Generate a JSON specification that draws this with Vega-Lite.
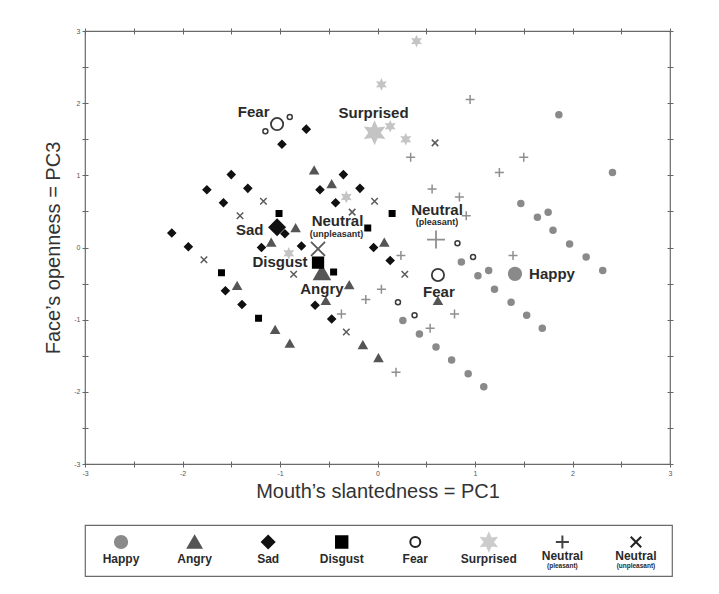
{
  "$schema": "https://vega.github.io/schema/vega-lite/v6.json",
  "padding": {"left": 43, "top": 26, "right": 5, "bottom": 5},
  "background": "white",
  "spacing": 22,
  "config": {"font": "Liberation Sans", "view": {"stroke": null}},
  "resolve": {"scale": {"x": "independent", "y": "independent", "size": "independent", "shape": "independent", "fill": "independent", "stroke": "independent"}},
  "datasets": {
    "pts": [
      {"emotion": "Happy", "pc1": 1.86, "pc3": 1.84, "centroid": 0},
      {"emotion": "Happy", "pc1": 2.41, "pc3": 1.04, "centroid": 0},
      {"emotion": "Happy", "pc1": 1.47, "pc3": 0.61, "centroid": 0},
      {"emotion": "Happy", "pc1": 1.64, "pc3": 0.42, "centroid": 0},
      {"emotion": "Happy", "pc1": 1.75, "pc3": 0.49, "centroid": 0},
      {"emotion": "Happy", "pc1": 1.80, "pc3": 0.24, "centroid": 0},
      {"emotion": "Happy", "pc1": 1.97, "pc3": 0.05, "centroid": 0},
      {"emotion": "Happy", "pc1": 2.14, "pc3": -0.13, "centroid": 0},
      {"emotion": "Happy", "pc1": 2.31, "pc3": -0.32, "centroid": 0},
      {"emotion": "Happy", "pc1": 0.86, "pc3": -0.20, "centroid": 0},
      {"emotion": "Happy", "pc1": 1.03, "pc3": -0.39, "centroid": 0},
      {"emotion": "Happy", "pc1": 1.14, "pc3": -0.32, "centroid": 0},
      {"emotion": "Happy", "pc1": 1.20, "pc3": -0.58, "centroid": 0},
      {"emotion": "Happy", "pc1": 1.37, "pc3": -0.76, "centroid": 0},
      {"emotion": "Happy", "pc1": 1.53, "pc3": -0.94, "centroid": 0},
      {"emotion": "Happy", "pc1": 1.69, "pc3": -1.12, "centroid": 0},
      {"emotion": "Happy", "pc1": 0.26, "pc3": -1.01, "centroid": 0},
      {"emotion": "Happy", "pc1": 0.43, "pc3": -1.20, "centroid": 0},
      {"emotion": "Happy", "pc1": 0.60, "pc3": -1.38, "centroid": 0},
      {"emotion": "Happy", "pc1": 0.76, "pc3": -1.56, "centroid": 0},
      {"emotion": "Happy", "pc1": 0.93, "pc3": -1.75, "centroid": 0},
      {"emotion": "Happy", "pc1": 1.09, "pc3": -1.93, "centroid": 0},
      {"emotion": "Angry", "pc1": -0.65, "pc3": 1.07, "centroid": 0},
      {"emotion": "Angry", "pc1": -0.47, "pc3": 0.88, "centroid": 0},
      {"emotion": "Angry", "pc1": -0.84, "pc3": 0.27, "centroid": 0},
      {"emotion": "Angry", "pc1": -1.09, "pc3": 0.07, "centroid": 0},
      {"emotion": "Angry", "pc1": 0.07, "pc3": 0.07, "centroid": 0},
      {"emotion": "Angry", "pc1": -1.44, "pc3": -0.53, "centroid": 0},
      {"emotion": "Angry", "pc1": -0.29, "pc3": -0.52, "centroid": 0},
      {"emotion": "Angry", "pc1": -0.53, "pc3": -0.74, "centroid": 0},
      {"emotion": "Angry", "pc1": 0.62, "pc3": -0.74, "centroid": 0},
      {"emotion": "Angry", "pc1": -1.05, "pc3": -1.14, "centroid": 0},
      {"emotion": "Angry", "pc1": -0.90, "pc3": -1.33, "centroid": 0},
      {"emotion": "Angry", "pc1": -0.15, "pc3": -1.35, "centroid": 0},
      {"emotion": "Angry", "pc1": 0.01, "pc3": -1.53, "centroid": 0},
      {"emotion": "Sad", "pc1": -0.73, "pc3": 1.64, "centroid": 0},
      {"emotion": "Sad", "pc1": -0.98, "pc3": 1.43, "centroid": 0},
      {"emotion": "Sad", "pc1": -0.35, "pc3": 1.01, "centroid": 0},
      {"emotion": "Sad", "pc1": -0.59, "pc3": 0.80, "centroid": 0},
      {"emotion": "Sad", "pc1": -0.18, "pc3": 0.82, "centroid": 0},
      {"emotion": "Sad", "pc1": -0.43, "pc3": 0.62, "centroid": 0},
      {"emotion": "Sad", "pc1": -1.50, "pc3": 1.01, "centroid": 0},
      {"emotion": "Sad", "pc1": -1.75, "pc3": 0.80, "centroid": 0},
      {"emotion": "Sad", "pc1": -1.33, "pc3": 0.82, "centroid": 0},
      {"emotion": "Sad", "pc1": -1.58, "pc3": 0.62, "centroid": 0},
      {"emotion": "Sad", "pc1": -0.95, "pc3": 0.19, "centroid": 0},
      {"emotion": "Sad", "pc1": -2.11, "pc3": 0.20, "centroid": 0},
      {"emotion": "Sad", "pc1": -1.94, "pc3": 0.01, "centroid": 0},
      {"emotion": "Sad", "pc1": -1.19, "pc3": 0.00, "centroid": 0},
      {"emotion": "Sad", "pc1": -0.78, "pc3": 0.02, "centroid": 0},
      {"emotion": "Sad", "pc1": -0.04, "pc3": 0.00, "centroid": 0},
      {"emotion": "Sad", "pc1": 0.13, "pc3": -0.18, "centroid": 0},
      {"emotion": "Sad", "pc1": -1.56, "pc3": -0.60, "centroid": 0},
      {"emotion": "Sad", "pc1": -1.39, "pc3": -0.79, "centroid": 0},
      {"emotion": "Sad", "pc1": -0.64, "pc3": -0.80, "centroid": 0},
      {"emotion": "Sad", "pc1": -0.47, "pc3": -0.99, "centroid": 0},
      {"emotion": "Disgust", "pc1": -1.01, "pc3": 0.47, "centroid": 0},
      {"emotion": "Disgust", "pc1": 0.15, "pc3": 0.47, "centroid": 0},
      {"emotion": "Disgust", "pc1": -0.10, "pc3": 0.27, "centroid": 0},
      {"emotion": "Disgust", "pc1": -1.60, "pc3": -0.35, "centroid": 0},
      {"emotion": "Disgust", "pc1": -1.22, "pc3": -0.98, "centroid": 0},
      {"emotion": "Disgust", "pc1": -0.45, "pc3": -0.34, "centroid": 0},
      {"emotion": "Fear", "pc1": -1.15, "pc3": 1.61, "centroid": 0},
      {"emotion": "Fear", "pc1": -0.90, "pc3": 1.81, "centroid": 0},
      {"emotion": "Fear", "pc1": 0.82, "pc3": 0.06, "centroid": 0},
      {"emotion": "Fear", "pc1": 0.98, "pc3": -0.13, "centroid": 0},
      {"emotion": "Fear", "pc1": 0.21, "pc3": -0.76, "centroid": 0},
      {"emotion": "Fear", "pc1": 0.38, "pc3": -0.94, "centroid": 0},
      {"emotion": "Surprised", "pc1": 0.40, "pc3": 2.86, "centroid": 0},
      {"emotion": "Surprised", "pc1": 0.04, "pc3": 2.26, "centroid": 0},
      {"emotion": "Surprised", "pc1": 0.13, "pc3": 1.68, "centroid": 0},
      {"emotion": "Surprised", "pc1": 0.29, "pc3": 1.50, "centroid": 0},
      {"emotion": "Surprised", "pc1": -0.32, "pc3": 0.70, "centroid": 0},
      {"emotion": "Surprised", "pc1": -0.91, "pc3": -0.08, "centroid": 0},
      {"emotion": "Neutral (pleasant)", "pc1": 0.95, "pc3": 2.05, "centroid": 0},
      {"emotion": "Neutral (pleasant)", "pc1": 0.34, "pc3": 1.25, "centroid": 0},
      {"emotion": "Neutral (pleasant)", "pc1": 1.50, "pc3": 1.25, "centroid": 0},
      {"emotion": "Neutral (pleasant)", "pc1": 1.25, "pc3": 1.04, "centroid": 0},
      {"emotion": "Neutral (pleasant)", "pc1": 0.56, "pc3": 0.81, "centroid": 0},
      {"emotion": "Neutral (pleasant)", "pc1": 0.84, "pc3": 0.70, "centroid": 0},
      {"emotion": "Neutral (pleasant)", "pc1": 0.91, "pc3": 0.44, "centroid": 0},
      {"emotion": "Neutral (pleasant)", "pc1": 0.24, "pc3": -0.11, "centroid": 0},
      {"emotion": "Neutral (pleasant)", "pc1": 1.39, "pc3": -0.11, "centroid": 0},
      {"emotion": "Neutral (pleasant)", "pc1": 0.04, "pc3": -0.58, "centroid": 0},
      {"emotion": "Neutral (pleasant)", "pc1": -0.12, "pc3": -0.72, "centroid": 0},
      {"emotion": "Neutral (pleasant)", "pc1": -0.37, "pc3": -0.92, "centroid": 0},
      {"emotion": "Neutral (pleasant)", "pc1": 0.79, "pc3": -0.92, "centroid": 0},
      {"emotion": "Neutral (pleasant)", "pc1": 0.54, "pc3": -1.12, "centroid": 0},
      {"emotion": "Neutral (pleasant)", "pc1": 0.19, "pc3": -1.73, "centroid": 0},
      {"emotion": "Neutral (unpleasant)", "pc1": 0.59, "pc3": 1.45, "centroid": 0},
      {"emotion": "Neutral (unpleasant)", "pc1": -0.03, "pc3": 0.64, "centroid": 0},
      {"emotion": "Neutral (unpleasant)", "pc1": -1.17, "pc3": 0.64, "centroid": 0},
      {"emotion": "Neutral (unpleasant)", "pc1": -1.41, "pc3": 0.44, "centroid": 0},
      {"emotion": "Neutral (unpleasant)", "pc1": -1.78, "pc3": -0.17, "centroid": 0},
      {"emotion": "Neutral (unpleasant)", "pc1": -0.86, "pc3": -0.37, "centroid": 0},
      {"emotion": "Neutral (unpleasant)", "pc1": 0.28, "pc3": -0.37, "centroid": 0},
      {"emotion": "Neutral (unpleasant)", "pc1": -0.32, "pc3": -1.17, "centroid": 0},
      {"emotion": "Neutral (unpleasant)", "pc1": -0.26, "pc3": 0.49, "centroid": 0},
      {"emotion": "Happy", "pc1": 1.41, "pc3": -0.365, "centroid": 1},
      {"emotion": "Sad", "pc1": -1.03, "pc3": 0.28, "centroid": 1},
      {"emotion": "Fear", "pc1": -1.03, "pc3": 1.71, "centroid": 1},
      {"emotion": "Fear", "pc1": 0.62, "pc3": -0.38, "centroid": 1},
      {"emotion": "Surprised", "pc1": -0.03, "pc3": 1.59, "centroid": 1},
      {"emotion": "Neutral (pleasant)", "pc1": 0.60, "pc3": 0.11, "centroid": 1},
      {"emotion": "Angry", "pc1": -0.57, "pc3": -0.35, "centroid": 1},
      {"emotion": "Disgust", "pc1": -0.61, "pc3": -0.21, "centroid": 1},
      {"emotion": "Neutral (unpleasant)", "pc1": -0.61, "pc3": -0.02, "centroid": 1}
    ],
    "ann": [
      {"label": "Fear", "pc1": -1.27, "pc3": 1.88, "sub": 0},
      {"label": "Surprised", "pc1": -0.04, "pc3": 1.87, "sub": 0},
      {"label": "Sad", "pc1": -1.31, "pc3": 0.245, "sub": 0},
      {"label": "Neutral", "pc1": -0.41, "pc3": 0.365, "sub": 0},
      {"label": "(unpleasant)", "pc1": -0.42, "pc3": 0.185, "sub": 1},
      {"label": "Disgust", "pc1": -1.0, "pc3": -0.2, "sub": 0},
      {"label": "Angry", "pc1": -0.57, "pc3": -0.57, "sub": 0},
      {"label": "Neutral", "pc1": 0.61, "pc3": 0.525, "sub": 0},
      {"label": "(pleasant)", "pc1": 0.61, "pc3": 0.35, "sub": 1},
      {"label": "Fear", "pc1": 0.63, "pc3": -0.61, "sub": 0},
      {"label": "Happy", "pc1": 1.79, "pc3": -0.365, "sub": 0}
    ],
    "leg": [
      {"emotion": "Happy", "label": "Happy", "sub": ""},
      {"emotion": "Angry", "label": "Angry", "sub": ""},
      {"emotion": "Sad", "label": "Sad", "sub": ""},
      {"emotion": "Disgust", "label": "Disgust", "sub": ""},
      {"emotion": "Fear", "label": "Fear", "sub": ""},
      {"emotion": "Surprised", "label": "Surprised", "sub": ""},
      {"emotion": "Neutral (pleasant)", "label": "Neutral", "sub": "(pleasant)"},
      {"emotion": "Neutral (unpleasant)", "label": "Neutral", "sub": "(unpleasant)"}
    ]
  },
  "vconcat": [
    {
      "width": 585,
      "height": 433,
      "view": {"stroke": "#6a6a6a", "strokeWidth": 1.2},
      "resolve": {"scale": {"size": "independent"}, "axis": {"x": "independent", "y": "independent"}},
      "layer": [
        {
          "data": {"name": "pts"},
          "transform": [{"filter": "datum.centroid == 0"}],
          "mark": {"type": "point", "opacity": 1, "strokeWidth": 1.5},
          "encoding": {
            "x": {"field": "pc1", "type": "quantitative", "scale": {"domain": [-3, 3], "nice": false, "zero": false},
              "axis": {"orient": "bottom", "values": [-3, -2.5, -2, -1.5, -1, -0.5, 0, 0.5, 1, 1.5, 2, 2.5, 3], "labelExpr": "datum.value % 1 == 0 ? '' + datum.value : ''", "labelOverlap": false, "labelFlush": false, "offset": -3, "tickSize": 6, "tickColor": "#666", "domain": false, "grid": false, "labelFontSize": 7, "labelColor": "#555", "labelPadding": 2, "title": "Mouth’s slantedness = PC1", "titleFontSize": 20, "titleFontWeight": "normal", "titleColor": "#333", "titlePadding": 5}},
            "y": {"field": "pc3", "type": "quantitative", "scale": {"domain": [-3, 3], "nice": false, "zero": false},
              "axis": {"orient": "left", "values": [-3, -2.5, -2, -1.5, -1, -0.5, 0, 0.5, 1, 1.5, 2, 2.5, 3], "labelExpr": "datum.value % 1 == 0 ? '' + datum.value : ''", "labelOverlap": false, "labelFlush": false, "offset": -3, "tickSize": 6, "tickColor": "#666", "domain": false, "grid": false, "labelFontSize": 7, "labelColor": "#555", "labelPadding": 2, "title": "Face’s openness = PC3", "titleFontSize": 20, "titleFontWeight": "normal", "titleColor": "#333", "titlePadding": 10}},
            "shape": {"field": "emotion", "type": "nominal", "legend": null, "scale": {"domain": ["Happy", "Angry", "Sad", "Disgust", "Fear", "Surprised", "Neutral (pleasant)", "Neutral (unpleasant)"], "range": ["circle", "triangle-up", "diamond", "square", "circle", "M0,-1L0.25,-0.433L0.866,-0.5L0.5,0L0.866,0.5L0.25,0.433L0,1L-0.25,0.433L-0.866,0.5L-0.5,0L-0.866,-0.5L-0.25,-0.433Z", "M-1,0L1,0M0,-1L0,1", "M-1,-1L1,1M-1,1L1,-1"]}},
            "fill": {"field": "emotion", "type": "nominal", "legend": null, "scale": {"domain": ["Happy", "Angry", "Sad", "Disgust", "Fear", "Surprised", "Neutral (pleasant)", "Neutral (unpleasant)"], "range": ["#8a8a8a", "#555555", "#111111", "#000000", "transparent", "#c4c4c4", "transparent", "transparent"]}},
            "stroke": {"field": "emotion", "type": "nominal", "legend": null, "scale": {"domain": ["Happy", "Angry", "Sad", "Disgust", "Fear", "Surprised", "Neutral (pleasant)", "Neutral (unpleasant)"], "range": ["#8a8a8a", "#555555", "#111111", "#000000", "#3a3a3a", "#c4c4c4", "#8f8f8f", "#5a5a5a"]}},
            "size": {"field": "emotion", "type": "nominal", "legend": null, "scale": {"type": "ordinal", "domain": ["Happy", "Angry", "Sad", "Disgust", "Fear", "Surprised", "Neutral (pleasant)", "Neutral (unpleasant)"], "range": [36, 64, 56, 30, 25, 81, 81, 42]}}
          }
        },
        {
          "data": {"name": "pts"},
          "transform": [{"filter": "datum.centroid == 1"}],
          "mark": {"type": "point", "opacity": 1, "strokeWidth": 1.8},
          "encoding": {
            "x": {"field": "pc1", "type": "quantitative", "axis": null},
            "y": {"field": "pc3", "type": "quantitative", "axis": null},
            "shape": {"field": "emotion", "type": "nominal", "legend": null},
            "fill": {"field": "emotion", "type": "nominal", "legend": null},
            "stroke": {"field": "emotion", "type": "nominal", "legend": null},
            "size": {"field": "emotion", "type": "nominal", "legend": null, "scale": {"type": "ordinal", "domain": ["Happy", "Angry", "Sad", "Disgust", "Fear", "Surprised", "Neutral (pleasant)", "Neutral (unpleasant)"], "range": [156, 240, 240, 110, 150, 420, 324, 196]}}
          }
        },
        {
          "data": {"name": "ann"},
          "transform": [{"filter": "datum.sub == 0"}],
          "mark": {"type": "text", "fontWeight": "bold", "fontSize": 15, "fill": "#2a2a2a", "baseline": "middle", "align": "center"},
          "encoding": {
            "x": {"field": "pc1", "type": "quantitative",
              "axis": {"orient": "top", "values": [-3, -2.5, -2, -1.5, -1, -0.5, 0, 0.5, 1, 1.5, 2, 2.5, 3], "labels": false, "offset": -3, "tickSize": 6, "tickColor": "#666", "domain": false, "grid": false, "title": null}},
            "y": {"field": "pc3", "type": "quantitative",
              "axis": {"orient": "right", "values": [-3, -2.5, -2, -1.5, -1, -0.5, 0, 0.5, 1, 1.5, 2, 2.5, 3], "labels": false, "offset": -3, "tickSize": 6, "tickColor": "#666", "domain": false, "grid": false, "title": null}},
            "text": {"field": "label", "type": "nominal"}
          }
        },
        {
          "data": {"name": "ann"},
          "transform": [{"filter": "datum.sub == 1"}],
          "mark": {"type": "text", "fontWeight": "bold", "fontSize": 9, "fill": "#2a2a2a", "baseline": "middle", "align": "center"},
          "encoding": {
            "x": {"field": "pc1", "type": "quantitative", "axis": null},
            "y": {"field": "pc3", "type": "quantitative", "axis": null},
            "text": {"field": "label", "type": "nominal"}
          }
        }
      ]
    },
    {
      "width": 587,
      "height": 51,
      "view": {"stroke": "#6a6a6a", "strokeWidth": 1.2},
      "data": {"name": "leg"},
      "encoding": {
        "x": {"field": "emotion", "type": "nominal", "axis": null, "sort": null, "scale": {"type": "point", "domain": ["Happy", "Angry", "Sad", "Disgust", "Fear", "Surprised", "Neutral (pleasant)", "Neutral (unpleasant)"], "padding": 0.49}}
      },
      "layer": [
        {
          "mark": {"type": "point", "opacity": 1, "strokeWidth": 2, "yOffset": -8.5},
          "encoding": {
            "shape": {"field": "emotion", "type": "nominal", "legend": null, "scale": {"domain": ["Happy", "Angry", "Sad", "Disgust", "Fear", "Surprised", "Neutral (pleasant)", "Neutral (unpleasant)"], "range": ["circle", "triangle-up", "diamond", "square", "circle", "M0,-1L0.25,-0.433L0.866,-0.5L0.5,0L0.866,0.5L0.25,0.433L0,1L-0.25,0.433L-0.866,0.5L-0.5,0L-0.866,-0.5L-0.25,-0.433Z", "M-1,0L1,0M0,-1L0,1", "M-1,-1L1,1M-1,1L1,-1"]}},
            "fill": {"field": "emotion", "type": "nominal", "legend": null, "scale": {"domain": ["Happy", "Angry", "Sad", "Disgust", "Fear", "Surprised", "Neutral (pleasant)", "Neutral (unpleasant)"], "range": ["#8a8a8a", "#555555", "#111111", "#000000", "transparent", "#cccccc", "transparent", "transparent"]}},
            "stroke": {"field": "emotion", "type": "nominal", "legend": null, "scale": {"domain": ["Happy", "Angry", "Sad", "Disgust", "Fear", "Surprised", "Neutral (pleasant)", "Neutral (unpleasant)"], "range": ["#8a8a8a", "#555555", "#111111", "#000000", "#222222", "#cccccc", "#444444", "#222222"]}},
            "size": {"field": "emotion", "type": "nominal", "legend": null, "scale": {"type": "ordinal", "domain": ["Happy", "Angry", "Sad", "Disgust", "Fear", "Surprised", "Neutral (pleasant)", "Neutral (unpleasant)"], "range": [150, 180, 150, 130, 100, 272, 170, 110]}}
          }
        },
        {
          "transform": [{"filter": "datum.sub == ''"}],
          "mark": {"type": "text", "fontWeight": "bold", "fontSize": 12, "fill": "#2a2a2a", "baseline": "middle", "align": "center", "dy": 8.5},
          "encoding": {"text": {"field": "label", "type": "nominal"}}
        },
        {
          "transform": [{"filter": "datum.sub != ''"}],
          "mark": {"type": "text", "fontWeight": "bold", "fontSize": 12, "fill": "#2a2a2a", "baseline": "middle", "align": "center", "dy": 5},
          "encoding": {"text": {"field": "label", "type": "nominal"}}
        },
        {
          "transform": [{"filter": "datum.sub != ''"}],
          "mark": {"type": "text", "fontWeight": "bold", "fontSize": 6.5, "fill": "#2a2a2a", "baseline": "middle", "align": "center", "dy": 15.5},
          "encoding": {"text": {"field": "sub", "type": "nominal"}}
        }
      ]
    }
  ]
}
